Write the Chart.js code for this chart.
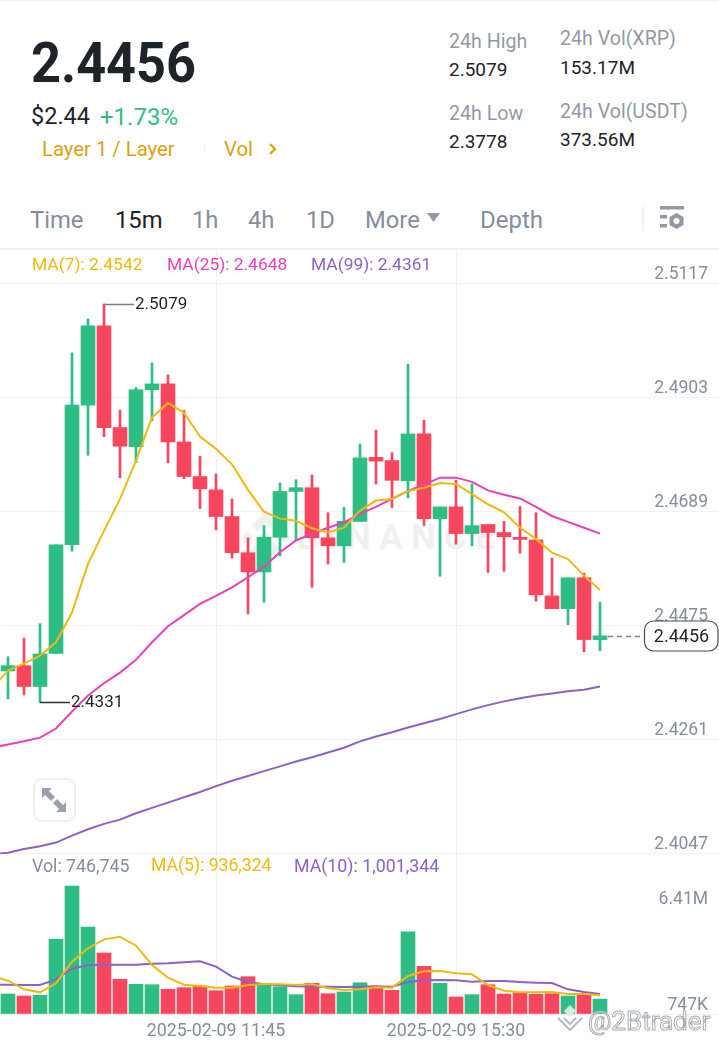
<!DOCTYPE html>
<html>
<head>
<meta charset="utf-8">
<title>XRP/USDT 15m</title>
<script src="https://cdn.jsdelivr.net/npm/chart.js@4/dist/chart.umd.min.js"></script>
<style>
html,body{margin:0;padding:0;background:#fff;width:719px;height:1043px;overflow:hidden;font-family:Roboto,sans-serif}
#page{position:relative;width:719px;height:1043px;overflow:hidden}
.t{position:absolute;white-space:nowrap;transform:translateY(-50%);line-height:1}
.g{color:#929aa5}.d{color:#1e2329}.o{color:#dca20c}
.rule{position:absolute;background:#eff1f3}
canvas{position:absolute;left:0;display:block}
svg{position:absolute;overflow:visible}
</style>
</head>
<body>
<div id="page">
<div class="rule" style="left:0;top:0;width:719px;height:1px"></div>
<div class="rule" style="left:0;top:248px;width:719px;height:2px"></div>

<div class="t d" style="left:31px;top:63px;font-size:55px;font-weight:700;transform:translateY(-50%) scaleX(.95);transform-origin:left center">2.4456</div>
<div class="t d" style="left:31px;top:117px;font-size:23.5px">$2.44</div>
<div class="t" style="left:100px;top:117px;font-size:24px;color:#2ebd85">+1.73%</div>
<div class="t o" style="left:42px;top:149px;font-size:20.3px">Layer 1 / Layer</div>
<div class="rule" style="left:204px;top:144px;width:1px;height:8px"></div>
<div class="t o" style="left:224px;top:149px;font-size:20.3px">Vol</div>
<svg style="left:268px;top:142px" width="10" height="14"><path d="M2 2 L7 7 L2 12" fill="none" stroke="#dca20c" stroke-width="2.2"/></svg>

<div class="t g" style="left:449px;top:42px;font-size:19.6px">24h High</div>
<div class="t d" style="left:449px;top:69px;font-size:19px">2.5079</div>
<div class="t g" style="left:449px;top:114px;font-size:19.6px">24h Low</div>
<div class="t d" style="left:449px;top:141px;font-size:19px">2.3778</div>
<div class="t g" style="left:560px;top:39px;font-size:19.6px">24h Vol(XRP)</div>
<div class="t d" style="left:560px;top:67px;font-size:19px">153.17M</div>
<div class="t g" style="left:560px;top:112px;font-size:19.6px">24h Vol(USDT)</div>
<div class="t d" style="left:560px;top:139px;font-size:19px">373.56M</div>

<div class="t g" style="left:30px;top:221px;font-size:23.8px;color:#848e9c">Time</div>
<div class="t d" style="left:115px;top:221px;font-size:23.8px">15m</div>
<div class="t g" style="left:192px;top:221px;font-size:23.8px;color:#848e9c">1h</div>
<div class="t g" style="left:248px;top:221px;font-size:23.8px;color:#848e9c">4h</div>
<div class="t g" style="left:306px;top:221px;font-size:23.8px;color:#848e9c">1D</div>
<div class="t g" style="left:365px;top:221px;font-size:23.8px;color:#848e9c">More</div>
<svg style="left:427px;top:212px" width="14" height="12"><path d="M0 1 H13 L6.5 10 Z" fill="#929aa5"/></svg>
<div class="t g" style="left:480px;top:220px;font-size:24px;color:#848e9c">Depth</div>
<div class="rule" style="left:642px;top:206px;width:2px;height:25px"></div>
<svg style="left:660px;top:206px" width="24" height="26"><rect x="0" y="0" width="24" height="3.5" fill="#929aa5"/><rect x="0" y="9" width="7" height="3.5" fill="#929aa5"/><rect x="0" y="18" width="7" height="3.5" fill="#929aa5"/><path d="M16.500 7 L23.500 11 V19 L16.500 23 L9.500 19 V11 Z" fill="#929aa5"/><circle cx="16.500" cy="15" r="3" fill="#fff"/></svg>

<svg style="left:240px;top:511px" width="52" height="52" viewBox="0 0 100 100"><path d="M50 38 L62 50 L50 62 L38 50 Z M50 0 L78 28 L66 40 L50 24 L34 40 L22 28 Z M50 100 L78 72 L66 60 L50 76 L34 60 L22 72 Z M14 38 L26 50 L14 62 L2 50 Z M86 38 L98 50 L86 62 L74 50 Z" fill="#eff1f1"/></svg>
<div class="t" style="left:297px;top:537px;font-size:35px;font-weight:700;color:#eff1f1;letter-spacing:8.2px">BINANCE</div>

<canvas id="priceCanvas" style="top:250px" width="719" height="604"></canvas>
<canvas id="volumeCanvas" style="top:854px" width="719" height="189"></canvas>

<div class="t" style="left:32px;top:265px;font-size:17.4px;color:#f0b90b">MA(7): 2.4542</div>
<div class="t" style="left:167px;top:265px;font-size:17.4px;color:#eb40b5">MA(25): 2.4648</div>
<div class="t" style="left:311px;top:265px;font-size:17.4px;color:#8a62c8">MA(99): 2.4361</div>
<div class="t" style="left:32px;top:866px;font-size:17.8px;color:#848e9c">Vol: 746,745</div>
<div class="t" style="left:151px;top:866px;font-size:17.6px;color:#f0b90b">MA(5): 936,324</div>
<div class="t" style="left:294px;top:866px;font-size:17.8px;color:#8a62c8">MA(10): 1,001,344</div>

<div style="position:absolute;left:33px;top:778px;width:39px;height:40px;border:2px solid #eceef0;border-radius:9px;background:#fff"></div>
<svg style="left:42px;top:788px" width="25" height="25"><path d="M0 0 H10 L7 3 L13 9 L9 13 L3 7 L0 10 Z M24 24 H14 L17 21 L11 15 L15 11 L21 17 L24 14 Z" fill="#9aa1ac"/></svg>

<svg style="left:556px;top:1004px" width="28" height="30"><path d="M14 1 L20 7 L14 13 L8 7 Z" fill="#d5ece3" /><path d="M2 14 L14 26 L26 14 M8 14 L14 20 L20 14" fill="none" stroke="#b8bcc2" stroke-width="2"/></svg>
<div class="t" style="left:588px;top:1021px;font-size:26px;color:rgba(255,255,255,.55);-webkit-text-stroke:1px #a9aeb5">@2Btrader</div>
</div>
<script>
const categories = ["2025-02-09 08:30","2025-02-09 08:45","2025-02-09 09:00","2025-02-09 09:15","2025-02-09 09:30","2025-02-09 09:45","2025-02-09 10:00","2025-02-09 10:15","2025-02-09 10:30","2025-02-09 10:45","2025-02-09 11:00","2025-02-09 11:15","2025-02-09 11:30","2025-02-09 11:45","2025-02-09 12:00","2025-02-09 12:15","2025-02-09 12:30","2025-02-09 12:45","2025-02-09 13:00","2025-02-09 13:15","2025-02-09 13:30","2025-02-09 13:45","2025-02-09 14:00","2025-02-09 14:15","2025-02-09 14:30","2025-02-09 14:45","2025-02-09 15:00","2025-02-09 15:15","2025-02-09 15:30","2025-02-09 15:45","2025-02-09 16:00","2025-02-09 16:15","2025-02-09 16:30","2025-02-09 16:45","2025-02-09 17:00","2025-02-09 17:15","2025-02-09 17:30","2025-02-09 17:45"];
const openPrices  = [2.4390,2.4400,2.4361,2.4423,2.4627,2.4889,2.5038,2.4847,2.4811,2.4918,2.4929,2.4820,2.4755,2.4730,2.4680,2.4612,2.4576,2.4641,2.4727,2.4734,2.4640,2.4625,2.4671,2.4791,2.4785,2.4747,2.4835,2.4676,2.4698,2.4648,2.4665,2.4650,2.4641,2.4636,2.4531,2.4507,2.4565,2.4449];
const highPrices  = [2.4417,2.4452,2.4479,2.4627,2.4987,2.5051,2.5079,2.4880,2.4922,2.4968,2.4946,2.4879,2.4793,2.4760,2.4713,2.4640,2.4663,2.4743,2.4749,2.4758,2.4687,2.4697,2.4816,2.4842,2.4800,2.4966,2.4861,2.4698,2.4748,2.4741,2.4665,2.4671,2.4699,2.4687,2.4602,2.4565,2.4574,2.4519];
const lowPrices   = [2.4338,2.4345,2.4331,2.4423,2.4615,2.4795,2.4830,2.4753,2.4781,2.4860,2.4781,2.4751,2.4695,2.4655,2.4602,2.4497,2.4519,2.4606,2.4635,2.4547,2.4591,2.4594,2.4671,2.4741,2.4697,2.4715,2.4663,2.4568,2.4628,2.4625,2.4575,2.4577,2.4611,2.4521,2.4507,2.4477,2.4426,2.4428];
const closePrices = [2.4400,2.4361,2.4422,2.4627,2.4889,2.5038,2.4847,2.4812,2.4918,2.4929,2.4820,2.4755,2.4732,2.4680,2.4612,2.4576,2.4641,2.4727,2.4734,2.4640,2.4625,2.4671,2.4790,2.4784,2.4748,2.4835,2.4676,2.4698,2.4648,2.4663,2.4650,2.4642,2.4637,2.4533,2.4507,2.4565,2.4449,2.4456];
// the moving averages start one candle before the visible window
const ma7Values  = [2.4357,2.4391,2.4404,2.4419,2.4444,2.4500,2.4591,2.4653,2.4713,2.4785,2.4866,2.4893,2.4875,2.4830,2.4807,2.4778,2.4730,2.4689,2.4676,2.4672,2.4658,2.4650,2.4659,2.4691,2.4710,2.4713,2.4728,2.4734,2.4743,2.4741,2.4722,2.4703,2.4688,2.4659,2.4638,2.4612,2.4600,2.4569,2.4542];
const ma25Values = [2.4246,2.4252,2.4258,2.4265,2.4282,2.4314,2.4344,2.4367,2.4387,2.4411,2.4444,2.4474,2.4495,2.4516,2.4531,2.4547,2.4566,2.4586,2.4613,2.4635,2.4648,2.4659,2.4669,2.4685,2.4698,2.4713,2.4728,2.4740,2.4753,2.4753,2.4745,2.4729,2.4721,2.4714,2.4698,2.4681,2.4670,2.4659,2.4648];
const ma99Values = [2.4046,2.4049,2.4056,2.4061,2.4068,2.4081,2.4093,2.4103,2.4111,2.4123,2.4133,2.4143,2.4153,2.4163,2.4174,2.4184,2.4193,2.4202,2.4211,2.4220,2.4228,2.4237,2.4246,2.4258,2.4267,2.4275,2.4284,2.4292,2.4300,2.4309,2.4318,2.4326,2.4333,2.4339,2.4344,2.4348,2.4352,2.4355,2.4361];
const volumes = [1002000,901000,936000,3741000,6410000,4357000,3055000,1738000,1487000,1467000,1237000,1317000,1402000,1167000,1402000,1868000,1452000,1367000,967000,1537000,1017000,1102000,1567000,1287000,1187000,4121000,2389000,1537000,851000,967000,1467000,1002000,1067000,987000,1017000,901000,987000,746745];
const volMa5Values  = [1903000,1669000,1235000,1085000,1535000,2620000,3288000,3739000,3872000,3421000,2454000,1819000,1469000,1402000,1319000,1319000,1452000,1502000,1485000,1452000,1485000,1285000,1202000,1235000,1335000,1319000,1903000,2136000,2153000,2036000,1986000,1452000,1168000,1085000,1085000,1102000,1001000,1001000,936324];
const volMa10Values = [1469000,1469000,1452000,1452000,1736000,2270000,2454000,2470000,2470000,2470000,2520000,2537000,2587000,2637000,2370000,1869000,1602000,1485000,1435000,1385000,1369000,1369000,1352000,1369000,1385000,1369000,1602000,1686000,1702000,1686000,1619000,1652000,1652000,1602000,1569000,1552000,1235000,1102000,1001344];
const priceTicks = [2.5117,2.4903,2.4689,2.4475,2.4261,2.4047];
const volTicks = [5310000,0];
const volTickLabels = ["6.41M","747K"];
const timeTickIndexes = [13,28];

const UP = "#2ebd85", DOWN = "#f6465d", GRID = "#eff1f3", MA_Y = "#f0b90b", MA_P = "#eb40b5", MA_V = "#8a62c8";
const AXIS_FONT = {family:"Roboto, sans-serif", size:17.5};
const candleColors = closePrices.map((c,i)=> c >= openPrices[i] ? UP : DOWN);
const lineSet = (values,color)=>({type:"line",order:0,data:values.map((v,i)=>({x:i-1,y:v})),borderColor:color,borderWidth:2,pointRadius:0,tension:0,fill:false});
const dropAxisPadding = a=>{a.paddingTop=0;a.paddingBottom=0;a.paddingLeft=0;a.paddingRight=0;};
const xBase = {type:"linear",min:-0.5,max:44.4375,offset:false,border:{display:false},
  afterBuildTicks:a=>{a.ticks=timeTickIndexes.map(v=>({value:v}));},
  grid:{color:GRID,lineWidth:1,drawTicks:false,offset:false}};

const annotate = {
  id:"annotate",
  afterDatasetsDraw(chart){
    const {ctx,scales:{x,y}} = chart;
    const hi = Math.max(...highPrices), lo = Math.min(...lowPrices);
    const mark = (value,idx,color)=>{
      const px = x.getPixelForValue(idx), py = Math.round(y.getPixelForValue(value));
      ctx.save();
      ctx.strokeStyle = color; ctx.lineWidth = 1.5;
      ctx.beginPath(); ctx.moveTo(px,py+.5); ctx.lineTo(px+30,py+.5); ctx.stroke();
      ctx.fillStyle = "#1e2329"; ctx.font = "17px Roboto, sans-serif"; ctx.textBaseline = "middle"; ctx.textAlign="left";
      ctx.fillText(value.toFixed(4),px+31,py+1);
      ctx.restore();
    };
    mark(hi,highPrices.indexOf(hi),"#76808f");
    mark(lo,lowPrices.indexOf(lo),"#2b3139");
    const last = closePrices[closePrices.length-1], lx = x.getPixelForValue(closePrices.length-1)+8, ly = Math.round(y.getPixelForValue(last));
    ctx.save();
    ctx.strokeStyle = "#76808f"; ctx.lineWidth = 1.3; ctx.setLineDash([5,4]);
    ctx.beginPath(); ctx.moveTo(lx,ly+.5); ctx.lineTo(644,ly+.5); ctx.stroke();
    ctx.setLineDash([]);
    ctx.fillStyle="#fff"; ctx.strokeStyle="#474d57"; ctx.lineWidth=1.2;
    ctx.beginPath(); ctx.roundRect(644.5,ly-15,73.5,30,9); ctx.fill(); ctx.stroke();
    ctx.fillStyle="#1e2329"; ctx.font="18px Roboto, sans-serif"; ctx.textAlign="center"; ctx.textBaseline="middle";
    ctx.fillText(last.toFixed(4),681.5,ly+1);
    ctx.restore();
  }
};

new Chart(document.getElementById("priceCanvas"),{
  type:"bar",
  data:{datasets:[
    lineSet(ma7Values,MA_Y),lineSet(ma25Values,MA_P),lineSet(ma99Values,MA_V),
    {type:"bar",order:1,label:"body",grouped:false,barThickness:14,backgroundColor:candleColors,
      data:openPrices.map((o,i)=>({x:i,y:[o,closePrices[i]]}))},
    {type:"bar",order:2,label:"wick",grouped:false,barThickness:2,backgroundColor:candleColors,
      data:lowPrices.map((l,i)=>({x:i,y:[l,highPrices[i]]}))}
  ]},
  options:{
    responsive:false,animation:false,devicePixelRatio:1,events:[],
    layout:{padding:0},
    plugins:{legend:{display:false},tooltip:{enabled:false}},
    scales:{
      x:{...xBase,afterFit:a=>{a.height=0;dropAxisPadding(a);},ticks:{display:false}},
      y:{type:"linear",position:"right",min:2.40465,max:2.51803,border:{display:false},
        afterBuildTicks:a=>{a.ticks=priceTicks.map(v=>({value:v}));},
        afterFit:a=>{a.width=0;dropAxisPadding(a);},
        grid:{color:GRID,lineWidth:1,drawTicks:false},
        ticks:{mirror:true,align:"end",padding:-11,color:"#848e9c",font:AXIS_FONT,callback:v=>v.toFixed(4)}}
    }
  },
  plugins:[annotate]
});

new Chart(document.getElementById("volumeCanvas"),{
  type:"bar",
  data:{datasets:[
    lineSet(volMa5Values,MA_Y),lineSet(volMa10Values,MA_V),
    {type:"bar",order:1,label:"volume",grouped:false,barThickness:14,backgroundColor:candleColors,
      data:volumes.map((v,i)=>({x:i,y:v}))}
  ]},
  options:{
    responsive:false,animation:false,devicePixelRatio:1,events:[],
    layout:{padding:0},
    plugins:{legend:{display:false},tooltip:{enabled:false}},
    scales:{
      x:{...xBase,afterFit:a=>{a.height=29;dropAxisPadding(a);},
        ticks:{autoSkip:false,maxRotation:0,padding:7,color:"#848e9c",font:{family:"Roboto, sans-serif",size:17.8},callback:v=>categories[v]}},
      y:{type:"linear",position:"right",min:0,max:8012500,border:{display:false},
        afterBuildTicks:a=>{a.ticks=volTicks.map(v=>({value:v}));},
        afterFit:a=>{a.width=0;dropAxisPadding(a);},
        grid:{color:c=>c.tick&&c.tick.value===0?GRID:"rgba(0,0,0,0)",lineWidth:1,drawTicks:false},
        ticks:{mirror:true,align:"end",padding:-11,color:"#848e9c",font:AXIS_FONT,callback:(v,i)=>volTickLabels[i]}}
    }
  }
});
</script>
</body>
</html>
